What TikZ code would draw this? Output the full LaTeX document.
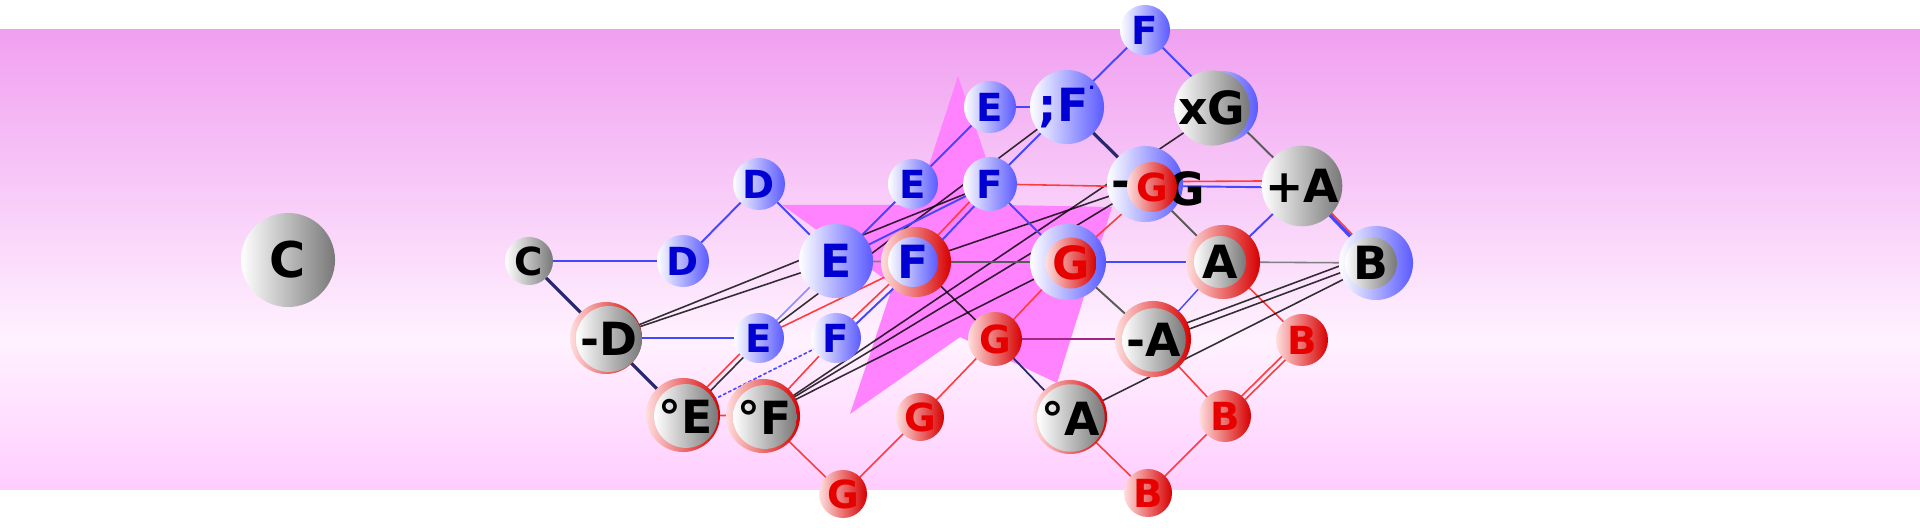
\documentclass[tikz,border=0pt]{standalone}
\usepackage{fontspec}
\setmainfont{DejaVu Sans}
\pgfdeclarelayer{bg}
\pgfdeclarelayer{edges}
\pgfsetlayers{bg,edges,main}
\definecolor{bandtop}{RGB}{240,160,240}
\definecolor{bandmid}{RGB}{255,242,255}
\definecolor{bandbot}{RGB}{255,205,255}
\definecolor{starc}{RGB}{255,130,255}
\definecolor{ballblue}{RGB}{90,90,255}
\definecolor{ballgray}{RGB}{120,120,120}
\definecolor{ballred}{RGB}{215,0,0}
\definecolor{ballpink}{RGB}{255,222,222}
\definecolor{txtblue}{RGB}{0,0,210}
\definecolor{txtred}{RGB}{230,0,0}
\definecolor{lblue}{RGB}{70,70,255}
\definecolor{llblue}{RGB}{140,140,255}
\definecolor{navy}{RGB}{40,40,110}
\definecolor{lred}{RGB}{255,60,60}
\definecolor{purp}{RGB}{160,40,130}
\definecolor{dgray}{RGB}{90,90,90}
\tikzset{
  ball/.style={circle, inner sep=0pt, outer sep=0pt},
  bb/.style={ball, left color=white, right color=ballblue},
  gb/.style={ball, left color=white, right color=ballgray},
  rb/.style={ball, left color=ballpink, right color=ballred},
  sz/.style={minimum size=#1*0.02cm},
  small/.style={font=\fontsize{11}{13}\selectfont\bfseries},
  big/.style={font=\fontsize{13}{15}\selectfont\bfseries},
  tbl/.style={text=txtblue},
  trd/.style={text=txtred},
  eb/.style={draw=lblue, line width=0.55pt},
  elb/.style={draw=llblue, line width=0.5pt},
  ebd/.style={draw=lblue, line width=0.45pt, dash pattern=on 1pt off 0.6pt},
  en/.style={draw=navy, line width=0.9pt},
  er/.style={draw=lred, line width=0.45pt},
  ek/.style={draw=black, line width=0.45pt, opacity=0.8},
  edk/.style={draw=dgray, line width=0.55pt},
  eg/.style={draw=gray, line width=0.45pt},
  ep/.style={draw=purp, line width=0.6pt}
}
\begin{document}
\begin{tikzpicture}[x=0.01cm, y=-0.01cm]
\useasboundingbox (0,0) rectangle (1920,528);
\begin{pgfonlayer}{bg}
  \fill[white] (0,0) rectangle (1920,528);
  \shade[top color=bandtop, bottom color=bandmid] (0,30) rectangle (1920,340);
  \shade[top color=bandmid, bottom color=bandbot] (0,339) rectangle (1920,490);
  \fill[starc] (958,76) -- (916,205) -- (782,205) -- (893,285) -- (850,414)
     -- (960,337) -- (1057,383) -- (1112,207) -- (1002,205) -- cycle;
\end{pgfonlayer}

% nodes
\node[gb, sz=47, font=\fontsize{14}{16}\selectfont\bfseries] (cbig) at (288,260) {C};
\node[gb, sz=24, small] (c0) at (529,261) {C};
\node[bb, sz=26, small, tbl] (d2) at (683,261) {D};
\node[bb, sz=26, small, tbl] (d3) at (759,184) {D};
\node[bb, sz=37, big, tbl] (e4) at (836,261) {E};
\node[bb, sz=25, small, tbl] (e3) at (759,338) {E};
\node[bb, sz=25, small, tbl] (f4) at (836,338) {F};
\node[bb, sz=25, small, tbl] (e5) at (913,184) {E};
\node[bb, sz=27, small, tbl] (f6) at (990,184) {F};
\node[bb, sz=26, small, tbl] (e6) at (990,107) {E};
\node[bb, sz=37, big, tbl] (f7) at (1067,107) {;F\raisebox{1.3ex}{\tiny.}};
\node[bb, sz=25, small, tbl] (f8) at (1145,30) {F};
% xG
\node[bb, sz=36] (g9) at (1222,107) {};
\node[gb, sz=26, big] (g9i) at (1212,108) {xG};
% -G with red G on top
\node[bb, sz=38] (g8) at (1145,184) {};
\node[big] (g8m) at (1121,189) {-};
\node[big] (g8t) at (1186,189) {G};
\node[rb, sz=25, small, trd] (g8r) at (1152,187) {G};
% +A
\node[gb, sz=30, big] (a10) at (1302,186) {+A};
% B
\node[bb, sz=37] (b11) at (1376,263) {};
\node[gb, sz=26, big] (b11i) at (1371,263) {B};
% A
\node[rb, sz=37] (a9) at (1223,262) {};
\node[gb, sz=26, big] (a9i) at (1220,262) {A};
% G (blue ring)
\node[bb, sz=38] (g7) at (1068,262) {};
\node[rb, sz=25, big, trd] (g7i) at (1071,263) {G};
% F (red ring)
\node[rb, sz=35] (f5) at (916,262) {};
\node[bb, sz=25, big, tbl] (f5i) at (913,262) {F};
% -D
\node[rb, sz=36] (d1) at (606,338) {};
\node[gb, sz=27, big] (d1i) at (609,339) {-D};
% -A
\node[rb, sz=38] (a8) at (1153,339) {};
\node[gb, sz=26, big] (a8i) at (1154,340) {-A};
% degree nodes
\node[rb, sz=37] (e2) at (683,415) {};
\node[gb, sz=27, big] (e2i) at (686,416) {°E};
\node[rb, sz=37] (f3) at (763,416) {};
\node[gb, sz=27, big] (f3i) at (765,417) {°F};
\node[rb, sz=37] (a7) at (1070,417) {};
\node[gb, sz=27, big] (a7i) at (1071,418) {°A};
% red balls
\node[rb, sz=27, small, trd] (g6) at (995,339) {G};
\node[rb, sz=24, small, trd] (g5) at (920,417) {G};
\node[rb, sz=24, small, trd] (g4) at (843,494) {G};
\node[rb, sz=26, small, trd] (b10) at (1302,340) {B};
\node[rb, sz=26, small, trd] (b9) at (1225,416) {B};
\node[rb, sz=24, small, trd] (b8) at (1148,493) {B};

\begin{pgfonlayer}{edges}
\draw[eb] (c0.center) -- (d2.center);
\draw[en] (c0.center) -- (d1.center);
\draw[en] (d1.center) -- (e2.center);
\draw[eb] (d2.center) -- (d3.center);
\draw[eb] (d3.center) -- (e4.center);
\draw[eb, line width=0.4pt] (d1.center) -- (e3.center);
\draw[ek] (d1.center) -- (e4.center);
\draw[ek] (d1.center) -- (f6.center);
\draw[elb] (e3.center) -- (e4.center);
\draw[er] ([xshift=-1pt]e2.center) -- ([xshift=-1pt]e3.center);
\draw[ek] ([xshift=1pt]e2.center) -- ([xshift=1pt]e3.center);
\draw[er] (e3.center) -- (f5.center);
\draw[ek] (e3.center) -- (f7.center);
\draw[ebd] (e2.center) -- (f4.center);
\draw[er] (e2.center) -- (f3.center);
\draw[er] (f3.center) -- (f4.center);
\draw[er] ([xshift=-1pt]f4.center) -- ([xshift=-1pt]f5.center);
\draw[eb] ([xshift=1.5pt]f4.center) -- ([xshift=1.5pt]f5.center);
\draw[er] (f3.center) -- (g4.center);
\draw[ek] (f3.center) -- (g9.center);
\draw[ek] (f3.center) -- (g8.center);
\draw[ek] (f3.center) -- (g7.center);
\draw[eb] (e4.center) -- (e5.center);
\draw[eb] (e4.center) -- (f6.center);
\draw[eg] (e4.center) -- (f5.center);
\draw[eb] (e5.center) -- (e6.center);
\draw[eb] (e6.center) -- (f7.center);
\draw[er] ([xshift=-1pt]f5.center) -- ([xshift=-1pt]f6.center);
\draw[eb] ([xshift=1.5pt]f5.center) -- ([xshift=1.5pt]f6.center);
\draw[edk] (f5.center) -- (g7.center);
\draw[ek] (f5.center) -- (g6.center);
\draw[ek] (f5.center) -- (g8.center);
\draw[eb] (f6.center) -- (f7.center);
\draw[eb] (f6.center) -- (g7.center);
\draw[er] (f6.center) -- (g8r.center);
\draw[eb] (f7.center) -- (f8.center);
\draw[en] (f7.center) -- (g8.center);
\draw[eb] (f8.center) -- (g9.center);
\draw[edk] (g9.center) -- (a10.center);
\draw[er] ([yshift=1.5pt]g8r.center) -- ([yshift=1.5pt]a10.center);
\draw[eb] ([yshift=-0.5pt]g8.center) -- ([yshift=-0.5pt]a10.center);
\draw[edk] (g8.center) -- (a9.center);
\draw[er] (g7.center) -- (g8r.center);
\draw[eb] (g7.center) -- (a9.center);
\draw[edk] (g7.center) -- (a8.center);
\draw[er] (g6.center) -- (g7.center);
\draw[er] (g5.center) -- (g6.center);
\draw[er] (g4.center) -- (g5.center);
\draw[ep] (g6.center) -- (a8.center);
\draw[en, line width=0.5pt] (g6.center) -- (a7.center);
\draw[eb] (a9.center) -- (a10.center);
\draw[eb, line width=1pt] (a10.center) -- (b11.center);
\draw[er] ([xshift=1pt]a10.center) -- ([xshift=1pt]b11.center);
\draw[eg] (a9.center) -- (b11.center);
\draw[eb, line width=0.4pt] (a8.center) -- (a9.center);
\draw[er] (a9.center) -- (b10.center);
\draw[er] (a8.center) -- (b9.center);
\draw[er] ([xshift=-1pt]b9.center) -- ([xshift=-1pt]b10.center);
\draw[er] ([xshift=1pt]b9.center) -- ([xshift=1pt]b10.center);
\draw[er] (a7.center) -- (b8.center);
\draw[er] (b8.center) -- (b9.center);
\draw[ek] ([yshift=1pt]a8.center) -- ([yshift=3pt]b11.center);
\draw[ek] ([yshift=-1pt]a8.center) -- ([yshift=1pt]b11.center);
\draw[ek] (a7.center) -- (b11.center);
\end{pgfonlayer}
\end{tikzpicture}
\end{document}
